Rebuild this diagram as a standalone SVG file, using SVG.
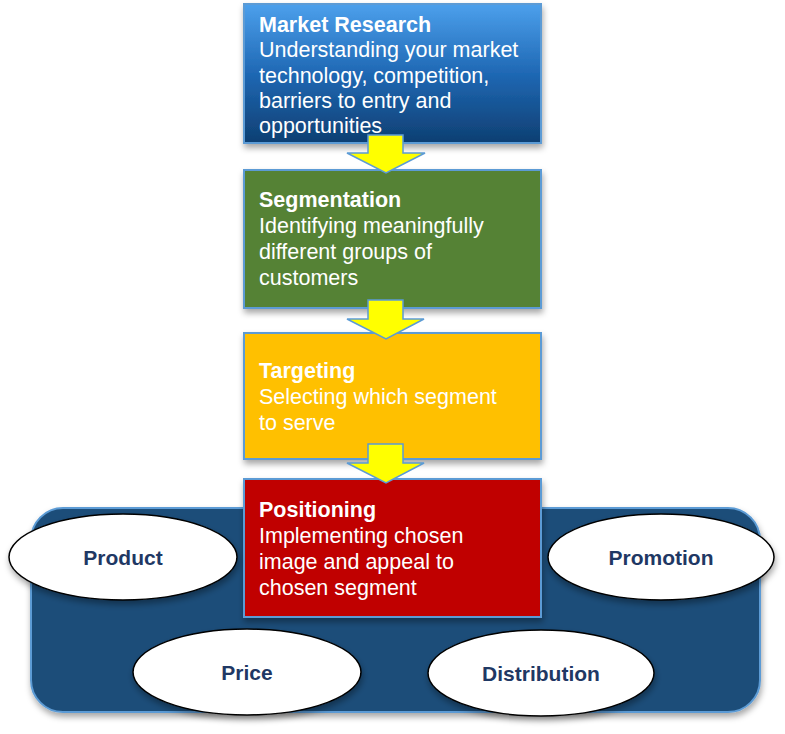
<svg xmlns="http://www.w3.org/2000/svg" width="785" height="734" viewBox="0 0 785 734">
<style>
.box{stroke:#5B9BD5;stroke-width:2}
.arrow{fill:#FFFF00;stroke:#5B9BD5;stroke-width:1.5;stroke-linejoin:miter}
.t{font-family:"Liberation Sans",Arial,sans-serif;fill:#FFFFFF;font-size:21.5px}
.b{font-weight:bold}
.ell{fill:#FFFFFF;stroke:#000000;stroke-width:1.5}
.el{font-family:"Liberation Sans",Arial,sans-serif;fill:#1F3864;font-size:21px;font-weight:bold;text-anchor:middle}
</style>
<defs>
<linearGradient id="g1" x1="0" y1="0" x2="0" y2="1">
<stop offset="0" stop-color="#4CA0EC"/>
<stop offset="0.5" stop-color="#1F68B4"/>
<stop offset="1" stop-color="#0E3F72"/>
</linearGradient>
<filter id="sh" x="-10%" y="-10%" width="125%" height="130%">
<feDropShadow dx="1" dy="4" stdDeviation="3" flood-color="#000" flood-opacity="0.35"/>
</filter>
</defs>
<g id="panel">
<rect x="31" y="508" width="729" height="204" rx="32" fill="#1F4E79" stroke="#5B9BD5" stroke-width="2" filter="url(#sh)"/>
</g>
<g id="market-research">
<rect class="box" x="244" y="4" width="297" height="139" fill="url(#g1)" filter="url(#sh)"/>
<text class="t"><tspan class="b" x="259" y="32">Market Research</tspan><tspan x="259" y="57">Understanding your market</tspan><tspan x="259" y="83">technology, competition,</tspan><tspan x="259" y="108">barriers to entry and</tspan><tspan x="259" y="133">opportunities</tspan></text>
</g>
<g id="segmentation">
<rect class="box" x="244" y="170" width="297" height="138" fill="#548235" filter="url(#sh)"/>
<text class="t"><tspan class="b" x="259" y="207">Segmentation</tspan><tspan x="259" y="233">Identifying meaningfully</tspan><tspan x="259" y="259">different groups of</tspan><tspan x="259" y="285">customers</tspan></text>
</g>
<g id="targeting">
<rect class="box" x="244" y="333" width="297" height="126" fill="#FFC000" filter="url(#sh)"/>
<text class="t"><tspan class="b" x="259" y="378">Targeting</tspan><tspan x="259" y="404">Selecting which segment</tspan><tspan x="259" y="430">to serve</tspan></text>
</g>
<g id="positioning">
<rect class="box" x="244" y="479" width="297" height="138" fill="#C00000" filter="url(#sh)"/>
<text class="t"><tspan class="b" x="259" y="517">Positioning</tspan><tspan x="259" y="543">Implementing chosen</tspan><tspan x="259" y="569">image and appeal to</tspan><tspan x="259" y="595">chosen segment</tspan></text>
</g>
<g id="product">
<ellipse class="ell" cx="123" cy="557" rx="114" ry="43" filter="url(#sh)"/>
<text class="el" x="123" y="565">Product</text>
</g>
<g id="promotion">
<ellipse class="ell" cx="661" cy="557" rx="113" ry="43" filter="url(#sh)"/>
<text class="el" x="661" y="565">Promotion</text>
</g>
<g id="price">
<ellipse class="ell" cx="247" cy="672" rx="114" ry="43" filter="url(#sh)"/>
<text class="el" x="247" y="680">Price</text>
</g>
<g id="distribution">
<ellipse class="ell" cx="541" cy="673" rx="113" ry="43" filter="url(#sh)"/>
<text class="el" x="541" y="681">Distribution</text>
</g>
<g id="connectors">
<path class="arrow" d="M368,135 H403 V153 H425 L386,173 L347,153 H368 Z"/>
<path class="arrow" d="M368,300 H403 V319 H424 L386,339 L347,319 H368 Z"/>
<path class="arrow" d="M368,444 H403 V463 H424 L386,483 L347,463 H368 Z"/>
</g>
</svg>
